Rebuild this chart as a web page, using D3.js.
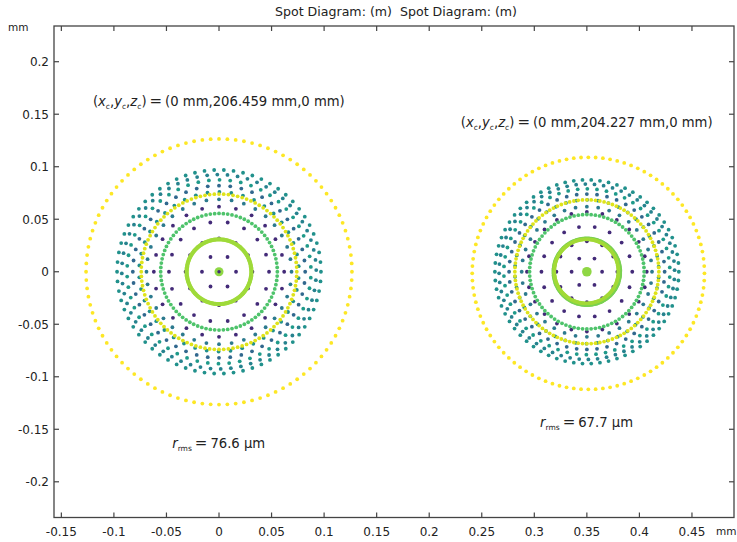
<!DOCTYPE html>
<html>
<head>
<meta charset="utf-8">
<script src="https://cdn.jsdelivr.net/npm/d3@7"></script>
<style>
  body { margin: 0; background: #fff; }
  svg { display: block; font-family: "DejaVu Sans", sans-serif; }
</style>
</head>
<body>
<div id="chart"></div>
<script>
// ---- data (mm) ----
const spotCenters   = [[0, 0], [0.35, 0]];
const centreLabels  = ["206.459", "204.227"];
const rmsValues     = ["76.6", "67.7"];

// purple pupil rings (hexapolar: 1, 6, 12, 18, 24 rays)
const purpleCounts  = [1, 6, 12, 18, 24];
const purpleRadii   = [[0, 0.0162, 0.0318, 0.0476, 0.0620],
                       [0, 0.0145, 0.0290, 0.0432, 0.0570]];

// teal band, several rings of rays
const tealCounts    = [36, 42, 48, 54, 60, 66];
const tealPhase     = [0, 4, 0, 3, 7, 0];
const tealRadii     = [[0.0690, 0.0760, 0.0820, 0.0875, 0.0925, 0.0970],
                       [0.0620, 0.0685, 0.0740, 0.0790, 0.0835, 0.0875]];
const tealColors    = ["#2c7a8e", "#21908d", "#31688e", "#1f9a8a", "#26828e", "#21918c"];

const greenRadius   = [0.0555, 0.0545];
const limeRadius    = [0.0300, 0.0305];
const yellowInner   = [0.0740, 0.0685];
const yellowOuter   = [0.1265, 0.1105];
const yellowOuterShift = [[0, 0], [0.0014, -0.0015]];

const xTicks = [-0.15, -0.1, -0.05, 0, 0.05, 0.1, 0.15, 0.2, 0.25, 0.3, 0.35, 0.4, 0.45];
const yTicks = [-0.2, -0.15, -0.1, -0.05, 0, 0.05, 0.1, 0.15, 0.2];

// ---- layout ----
const width = 737, height = 542;
const plot = { left: 54, right: 734, top: 26, bottom: 517.5 };

const svg = d3.select("#chart").append("svg")
  .attr("width", width).attr("height", height);

const x = d3.scaleLinear().domain([-0.157, 0.490]).range([plot.left, plot.right]);
const y = d3.scaleLinear().domain([-0.234, 0.234]).range([plot.bottom, plot.top]);

function ring(c, r, n, phase, color) {
  return d3.range(n).map(i => {
    const a = (phase + i * 360 / n) * Math.PI / 180;
    return { x: c[0] + r * Math.cos(a), y: c[1] + r * Math.sin(a), color };
  });
}

const dotR = 1.9;
function drawDots(pts, r) {
  svg.append("g").selectAll("circle")
    .data(pts)
    .join("circle")
    .attr("cx", d => x(d.x))
    .attr("cy", d => y(d.y))
    .attr("r", r || dotR)
    .attr("fill", d => d.color);
}

spotCenters.forEach((c, s) => {
  // teal band
  let teal = [];
  tealRadii[s].forEach((r, i) => {
    teal = teal.concat(ring(c, r, tealCounts[i], tealPhase[i], tealColors[i]));
  });
  drawDots(teal);

  // purple grid
  let purple = [];
  purpleRadii[s].forEach((r, i) => {
    purple = purple.concat(ring(c, r, purpleCounts[i], 0, "#432a78"));
  });
  drawDots(purple);

  drawDots(ring(c, greenRadius[s], 84, 0, "#4ec36b"));
  drawDots(ring(c, yellowInner[s], 104, 0, "#dfe31a"));
  const oc = [c[0] + yellowOuterShift[s][0], c[1] + yellowOuterShift[s][1]];
  drawDots(ring(oc, yellowOuter[s], 100, 0, "#fde725"));

  // lime ring + centre
  if (s === 0) {
    drawDots(ring(c, limeRadius[s] + 0.0008, 180, 0, "#9fda3a"), 2.1);
    drawDots([{ x: c[0], y: c[1], color: "#8fd744" }], 4.5);
    drawDots([{ x: c[0], y: c[1], color: "#432a78" }], 1.7);
  } else {
    drawDots(ring(c, limeRadius[s] + 0.0012, 180, 0, "#7ad151"), 2);
    drawDots(ring([c[0] - 0.0005, c[1] + 0.0004], limeRadius[s], 180, 3, "#a2da37"), 1.9);
    drawDots([{ x: c[0], y: c[1], color: "#8fd744" }], 4.8);
  }
});

// ---- frame & axes ----
const axisColor = "#444";
svg.append("rect")
  .attr("x", plot.left).attr("y", plot.top)
  .attr("width", plot.right - plot.left).attr("height", plot.bottom - plot.top)
  .attr("fill", "none").attr("stroke", axisColor).attr("stroke-width", 1.3);

const tickLen = 5;
const fmt = d => d === 0 ? "0" : String(+d.toFixed(2));

const tg = svg.append("g").attr("stroke", axisColor).attr("stroke-width", 1.2);
xTicks.forEach(t => {
  tg.append("line").attr("x1", x(t)).attr("x2", x(t)).attr("y1", plot.bottom).attr("y2", plot.bottom - tickLen);
  tg.append("line").attr("x1", x(t)).attr("x2", x(t)).attr("y1", plot.top).attr("y2", plot.top + tickLen);
});
yTicks.forEach(t => {
  tg.append("line").attr("y1", y(t)).attr("y2", y(t)).attr("x1", plot.left).attr("x2", plot.left + tickLen);
  tg.append("line").attr("y1", y(t)).attr("y2", y(t)).attr("x1", plot.right).attr("x2", plot.right - tickLen);
});

svg.append("g").selectAll("text")
  .data(xTicks).join("text")
  .attr("x", d => x(d)).attr("y", plot.bottom + 18)
  .attr("text-anchor", "middle").attr("font-size", 12).attr("fill", "#222")
  .text(fmt);

svg.append("g").selectAll("text")
  .data(yTicks).join("text")
  .attr("x", plot.left - 5).attr("y", d => y(d) + 4.5)
  .attr("text-anchor", "end").attr("font-size", 12).attr("fill", "#222")
  .text(fmt);

svg.append("text").attr("x", 8).attr("y", 31).attr("font-size", 10.5).attr("fill", "#222").text("mm");
svg.append("text").attr("x", 716).attr("y", 535).attr("font-size", 10.5).attr("fill", "#222").text("mm");

svg.append("text")
  .attr("x", 396).attr("y", 16)
  .attr("text-anchor", "middle").attr("font-size", 12.6).attr("fill", "#222")
  .attr("xml:space", "preserve")
  .text("Spot Diagram: (m)  Spot Diagram: (m)");

// ---- annotations ----
const centrePos = [[-0.120, 0.158], [0.230, 0.138]];
const rmsPos    = [[-0.0445, -0.168], [0.3055, -0.148]];

centrePos.forEach((p, i) => {
  const t = svg.append("text")
    .attr("x", x(p[0])).attr("y", y(p[1]))
    .attr("font-size", 13.2).attr("fill", "#222");
  t.append("tspan").text("(");
  ["x", "y", "z"].forEach((v, k) => {
    t.append("tspan").attr("font-style", "italic").text(v);
    t.append("tspan").attr("font-size", 7.5).attr("dy", 3).text("c");
    t.append("tspan").attr("dy", -3).text(k < 2 ? "," : ")");
  });
  t.append("tspan").attr("font-size", 15).text("\u2009=\u2009");
  t.append("tspan").text("(0 mm,");
  t.append("tspan").text(centreLabels[i] + " mm,0 mm)");
});

rmsPos.forEach((p, i) => {
  const t = svg.append("text")
    .attr("x", x(p[0])).attr("y", y(p[1]))
    .attr("font-size", 13.2).attr("fill", "#222");
  t.append("tspan").attr("font-style", "italic").text("r");
  t.append("tspan").attr("font-size", 7.5).attr("dy", 3).text("rms");
  t.append("tspan").attr("dy", -3).attr("font-size", 15).text("\u2009=\u2009");
  t.append("tspan").text(rmsValues[i] + " \u00b5m");
});
</script>
</body>
</html>
